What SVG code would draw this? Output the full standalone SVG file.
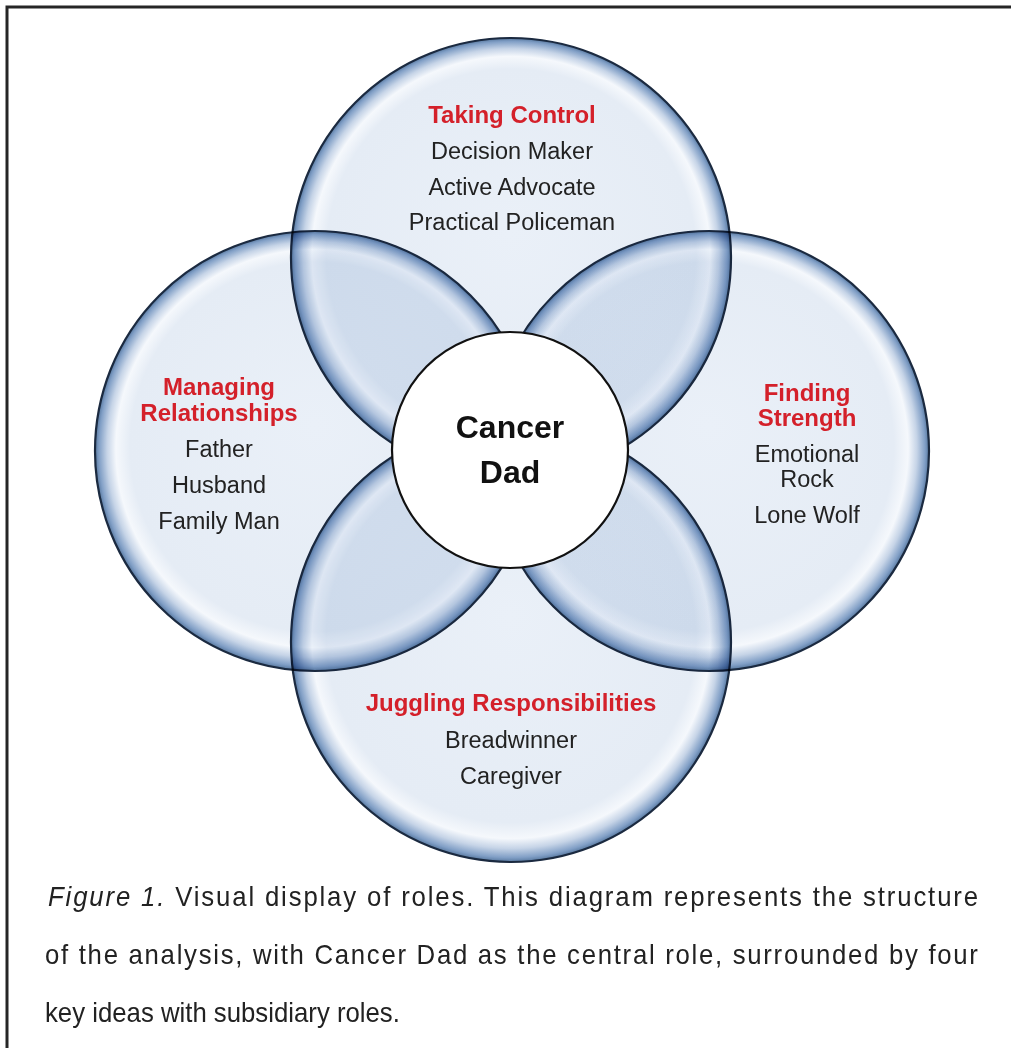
<svg xmlns="http://www.w3.org/2000/svg" width="1011" height="1048" viewBox="0 0 1011 1048">
  <defs>
    <radialGradient id="glass" cx="50%" cy="50%" r="50%" fx="50%" fy="44%">
      <stop offset="0" stop-color="#eaf0f8"/>
      <stop offset="0.84" stop-color="#e5ecf5"/>
      <stop offset="0.905" stop-color="#f5f8fc"/>
      <stop offset="0.945" stop-color="#c6d4e7"/>
      <stop offset="0.982" stop-color="#819fc6"/>
      <stop offset="1" stop-color="#57789f"/>
    </radialGradient>
    <style>
      .ring { fill: url(#glass); stroke: #1b2a40; stroke-width: 2.2; mix-blend-mode: multiply; }
      .core { fill: #ffffff; stroke: #111111; stroke-width: 2.2; }
      .title { font-family: "Liberation Sans", Arial, sans-serif; font-weight: bold; font-size: 24px; fill: #d4202a; text-anchor: middle; }
      .role { font-family: "Liberation Sans", Arial, sans-serif; font-size: 23.5px; fill: #222222; text-anchor: middle; }
      .center { font-family: "Liberation Sans", Arial, sans-serif; font-weight: bold; font-size: 32px; fill: #111111; text-anchor: middle; }
      .cap { font-family: "Liberation Sans", Arial, sans-serif; font-size: 28px; fill: #222222; }
      .frame { stroke: #262626; stroke-width: 3; fill: none; }
    </style>
  </defs>
  <rect x="0" y="0" width="1011" height="1048" fill="#ffffff"/>
  <path class="frame" d="M7,1048 V7 H1011"/>

  <g id="circles">
    <g id="node-top"><circle class="ring" cx="511" cy="258" r="220"/></g>
    <g id="node-left"><circle class="ring" cx="315" cy="451" r="220"/></g>
    <g id="node-right"><circle class="ring" cx="709" cy="451" r="220"/></g>
    <g id="node-bottom"><circle class="ring" cx="511" cy="642" r="220"/></g>
  </g>

  <g id="connectors"></g>

  <g id="node-center">
    <circle class="core" cx="510" cy="450" r="118"/>
    <text class="center" x="510" y="438">Cancer</text>
    <text class="center" x="510" y="483">Dad</text>
  </g>

  <g id="labels-top">
    <text class="title" x="512" y="123">Taking Control</text>
    <text class="role" x="512" y="159">Decision Maker</text>
    <text class="role" x="512" y="195">Active Advocate</text>
    <text class="role" x="512" y="230">Practical Policeman</text>
  </g>
  <g id="labels-left">
    <text class="title" x="219" y="395">Managing</text>
    <text class="title" x="219" y="421">Relationships</text>
    <text class="role" x="219" y="457">Father</text>
    <text class="role" x="219" y="493">Husband</text>
    <text class="role" x="219" y="529">Family Man</text>
  </g>
  <g id="labels-right">
    <text class="title" x="807" y="401">Finding</text>
    <text class="title" x="807" y="426">Strength</text>
    <text class="role" x="807" y="462">Emotional</text>
    <text class="role" x="807" y="487">Rock</text>
    <text class="role" x="807" y="523">Lone Wolf</text>
  </g>
  <g id="labels-bottom">
    <text class="title" x="511" y="711">Juggling Responsibilities</text>
    <text class="role" x="511" y="748">Breadwinner</text>
    <text class="role" x="511" y="784">Caregiver</text>
  </g>

  <g id="caption" transform="scale(0.92,1)">
    <text class="cap" x="52.2" y="906" textLength="1010.9" lengthAdjust="spacing"><tspan font-style="italic">Figure 1.</tspan> Visual display of roles. This diagram represents the structure</text>
    <text class="cap" x="48.9" y="964" textLength="1014.1" lengthAdjust="spacing">of the analysis, with Cancer Dad as the central role, surrounded by four</text>
    <text class="cap" x="48.9" y="1022">key ideas with subsidiary roles.</text>
  </g>
</svg>
